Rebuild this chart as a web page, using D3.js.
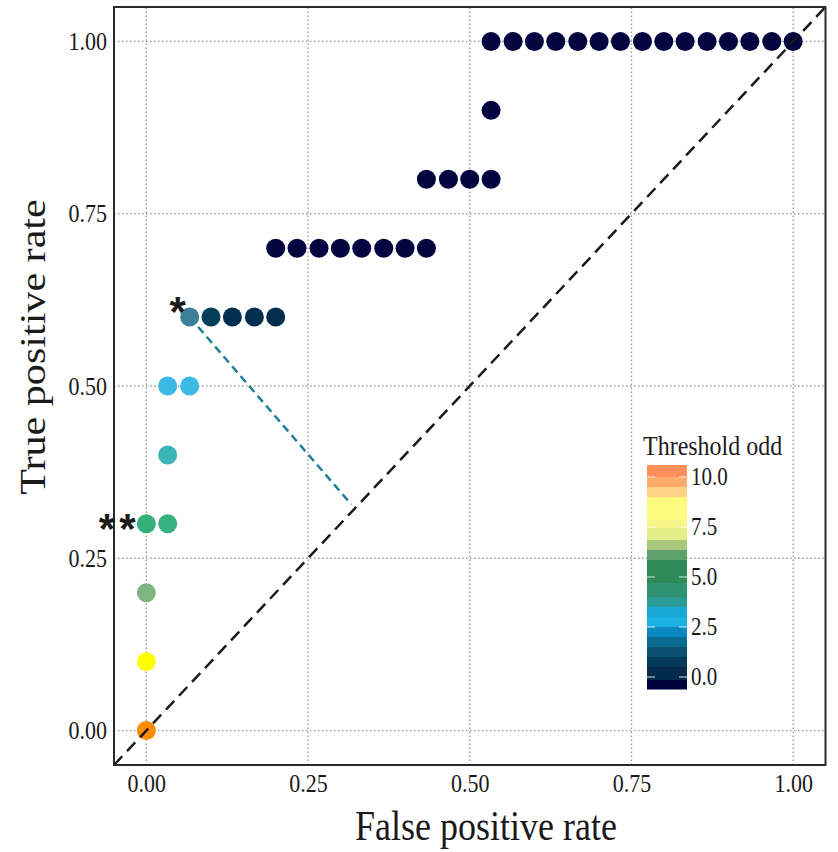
<!DOCTYPE html>
<html>
<head>
<meta charset="utf-8">
<script src="https://cdn.jsdelivr.net/npm/d3@7"></script>
<style>
  body { margin: 0; background: #fff; }
  text { font-family: "Liberation Serif", "Times New Roman", serif; fill: #1a1a1a; }
</style>
</head>
<body>
<svg id="chart"></svg>
<script>
// ROC points: false positive rate, true positive rate, threshold odd
var fpr = [0, 0, 0, 0, 0.033, 0.033, 0.033, 0.067, 0.067, 0.1, 0.133, 0.167, 0.2,
           0.2, 0.233, 0.267, 0.3, 0.333, 0.367, 0.4, 0.433,
           0.433, 0.467, 0.5, 0.533,
           0.533,
           0.533, 0.567, 0.6, 0.633, 0.667, 0.7, 0.733, 0.767, 0.8, 0.833, 0.867, 0.9, 0.933, 0.967, 1.0];
var tpr = [0, 0.1, 0.2, 0.3, 0.3, 0.4, 0.5, 0.5, 0.6, 0.6, 0.6, 0.6, 0.6,
           0.7, 0.7, 0.7, 0.7, 0.7, 0.7, 0.7, 0.7,
           0.8, 0.8, 0.8, 0.8,
           0.9,
           1, 1, 1, 1, 1, 1, 1, 1, 1, 1, 1, 1, 1, 1, 1];
var threshold = [10, 8, 6.3, 5, 4.8, 3.5, 2.5, 2.5, 1.8, 1.2, 0.6, 0.6, 0.6,
                 0, 0, 0, 0, 0, 0, 0, 0,
                 0, 0, 0, 0,
                 0,
                 0, 0, 0, 0, 0, 0, 0, 0, 0, 0, 0, 0, 0, 0, 0];

var axisTicks = [0, 0.25, 0.5, 0.75, 1];
var legendTicks = [0, 2.5, 5, 7.5, 10];

// colourbar bins (upper edge of each bin, top to bottom) and their colours
var legendEdges = [10.6, 10, 9.5, 9, 7.85, 7.45, 6.85, 6.35, 5.85, 4.7, 4, 3.5, 3, 2.5, 2, 1.5, 1, 0.5, -0.15, -0.6];
var legendColors = ["#ff8f5a", "#ffac6a", "#ffd285", "#fffb7e", "#f6f488", "#e4ee8a", "#a8c77c", "#5ea36c",
                    "#2e8b57", "#2f9270", "#2a9a96", "#1ba8d5", "#1ab0e0", "#0a88c0", "#0a6a90", "#0a5070",
                    "#063a5a", "#032a4a", "#00003a"];

// best cut-off (*) and its distance to the chance line
var cutFrom = [0.067, 0.6];
var cutTo = [0.317, 0.328];
// second marked point (**)
var markTwo = [0, 0.3];

var width = 838, height = 852;
var stretch = 1.17;

var svg = d3.select("#chart").attr("width", width).attr("height", height);

var x = d3.scaleLinear().domain([-0.05, 1.05]).range([114, 825.5]);
var y = d3.scaleLinear().domain([-0.05, 1.05]).range([765, 7]);

var color = d3.scaleLinear()
  .domain([0, 0.6, 1.2, 1.8, 2.5, 3.5, 5, 6.3, 8, 10])
  .range(["#03033f", "#022f50", "#023f5a", "#3b7f9b", "#3db9e5", "#3bb5b8", "#36b07a", "#7fb57e", "#ffff00", "#ff8c00"]);

// grid
var grid = svg.append("g")
  .attr("stroke", "#999")
  .attr("stroke-width", 1.3)
  .attr("stroke-dasharray", "1.5,2.5");
grid.selectAll(".gx").data(axisTicks).enter().append("line")
  .attr("x1", function(d) { return x(d); })
  .attr("x2", function(d) { return x(d); })
  .attr("y1", y.range()[0]).attr("y2", y.range()[1]);
grid.selectAll(".gy").data(axisTicks).enter().append("line")
  .attr("y1", function(d) { return y(d); })
  .attr("y2", function(d) { return y(d); })
  .attr("x1", x.range()[0]).attr("x2", x.range()[1]);

// youden line
svg.append("line")
  .attr("x1", x(cutFrom[0])).attr("y1", y(cutFrom[1]))
  .attr("x2", x(cutTo[0])).attr("y2", y(cutTo[1]))
  .attr("stroke", "#1f7f98")
  .attr("stroke-width", 2.5)
  .attr("stroke-dasharray", "8,5");

// points
var points = fpr.map(function(d, i) {
  return { fpr: d, tpr: tpr[i], t: threshold[i] };
});
svg.append("g").selectAll("circle")
  .data(points)
  .enter().append("circle")
  .attr("cx", function(d) { return x(d.fpr); })
  .attr("cy", function(d) { return y(d.tpr); })
  .attr("r", 9.5)
  .attr("fill", function(d) { return color(d.t); });

// chance line
svg.append("line")
  .attr("x1", x(-0.05)).attr("y1", y(-0.05))
  .attr("x2", x(1.05)).attr("y2", y(1.05))
  .attr("stroke", "#1a1a1a")
  .attr("stroke-width", 2.5)
  .attr("stroke-dasharray", "12,7");

// frame
svg.append("rect")
  .attr("x", x.range()[0]).attr("y", y.range()[1])
  .attr("width", x.range()[1] - x.range()[0])
  .attr("height", y.range()[0] - y.range()[1])
  .attr("fill", "none")
  .attr("stroke", "#2b2b2b")
  .attr("stroke-width", 2);

// axes
var fmt = d3.format(".2f");
var yAxis = svg.append("g")
  .attr("transform", "translate(" + x.range()[0] + ",0)")
  .call(d3.axisLeft(y).tickValues(axisTicks).tickFormat(fmt).tickSize(0).tickPadding(7));
var xAxis = svg.append("g")
  .attr("transform", "translate(0," + y.range()[0] + ")")
  .call(d3.axisBottom(x).tickValues(axisTicks).tickFormat(fmt).tickSize(0).tickPadding(7.4));
[xAxis, yAxis].forEach(function(a) {
  a.attr("font-family", null);
  a.select(".domain").remove();
  a.selectAll("text")
    .style("font-size", "22px")
    .attr("fill", "#1a1a1a")
    .attr("transform", "scale(1," + stretch + ")");
});

// titles
svg.append("text")
  .attr("transform", "translate(486,840) scale(1," + stretch + ")")
  .attr("text-anchor", "middle")
  .style("font-size", "36px")
  .text("False positive rate");
svg.append("text")
  .attr("transform", "translate(45,347) scale(1," + stretch + ") rotate(-90)")
  .attr("text-anchor", "middle")
  .style("font-size", "36px")
  .text("True positive rate");

// asterisks
function star(px, py) {
  svg.append("text")
    .attr("x", px).attr("y", py + 24)
    .attr("text-anchor", "middle")
    .attr("font-weight", "bold")
    .style("font-family", "Liberation Sans, Arial, sans-serif")
    .style("font-size", "42px")
    .attr("fill", "#111")
    .text("*");
}
star(x(cutFrom[0]) - 12, y(cutFrom[1]) - 15);
star(x(markTwo[0]) - 39.5, y(markTwo[1]) - 5);
star(x(markTwo[0]) - 19, y(markTwo[1]) - 5);

// legend
var ly = d3.scaleLinear().domain([0, 10]).range([677, 477]);
var legend = svg.append("g");
legend.append("text")
  .attr("transform", "translate(643,455) scale(1,1.12)")
  .style("font-size", "24px")
  .text("Threshold odd");
legend.selectAll("rect")
  .data(legendColors)
  .enter().append("rect")
  .attr("x", 647)
  .attr("width", 40)
  .attr("y", function(d, i) { return ly(legendEdges[i]); })
  .attr("height", function(d, i) { return ly(legendEdges[i + 1]) - ly(legendEdges[i]) + 0.5; })
  .attr("fill", function(d) { return d; });
legendTicks.forEach(function(v) {
  legend.append("line").attr("x1", 647).attr("x2", 655).attr("y1", ly(v)).attr("y2", ly(v))
    .attr("stroke", "#fff").attr("stroke-opacity", 0.7).attr("stroke-width", 1.2);
  legend.append("line").attr("x1", 679).attr("x2", 687).attr("y1", ly(v)).attr("y2", ly(v))
    .attr("stroke", "#fff").attr("stroke-opacity", 0.7).attr("stroke-width", 1.2);
  legend.append("text")
    .attr("transform", "translate(691," + ly(v) + ") scale(1,1.15)")
    .attr("dy", "0.33em")
    .style("font-size", "21px")
    .text(d3.format(".1f")(v));
});
</script>
</body>
</html>
